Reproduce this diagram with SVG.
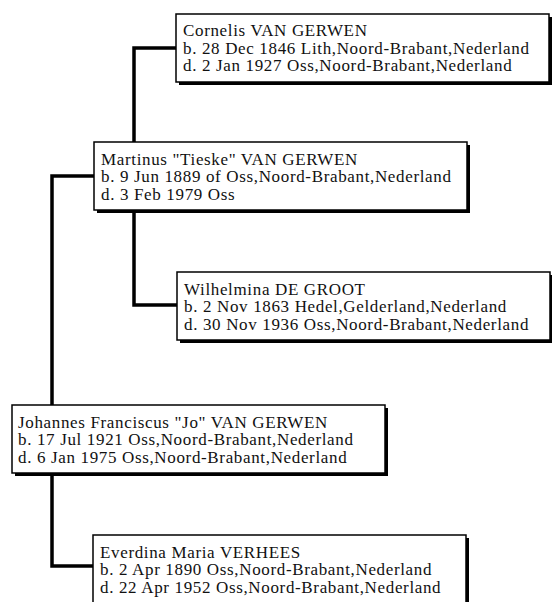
<svg xmlns="http://www.w3.org/2000/svg" width="552" height="602" viewBox="0 0 552 602">
<style>
.shadow{fill:#000}
.box{fill:#fff;stroke:#000;stroke-width:1.5}
.t{font-family:"Liberation Serif","Times New Roman",serif;font-size:17px;letter-spacing:0.65px;fill:#111}
.conn{fill:none;stroke:#000;stroke-width:3.5;stroke-linejoin:miter}
</style>
<defs>
<g id="card">
<rect class="shadow" x="3" y="3" width="373" height="68"/>
<rect class="box" x="0" y="0" width="373" height="68"/>
</g>
</defs>
<g id="connectors">
<path class="conn" d="M176,48 H134 V142"/>
<path class="conn" d="M134,210 V305 H177"/>
<path class="conn" d="M94,176 H52 V405"/>
<path class="conn" d="M52,473 V566 H93"/>
</g>
<g id="cornelis" transform="translate(176,14)">
<use href="#card"/>
<text class="t" x="7" y="22">Cornelis VAN GERWEN</text>
<text class="t" x="7" y="39.5">b. 28 Dec 1846 Lith,Noord-Brabant,Nederland</text>
<text class="t" x="7" y="57">d. 2 Jan 1927 Oss,Noord-Brabant,Nederland</text>
</g>
<g id="martinus" transform="translate(94,142)">
<use href="#card"/>
<text class="t" x="7" y="22.5">Martinus "Tieske" VAN GERWEN</text>
<text class="t" x="7" y="40">b. 9 Jun 1889 of Oss,Noord-Brabant,Nederland</text>
<text class="t" x="7" y="57.5">d. 3 Feb 1979 Oss</text>
</g>
<g id="wilhelmina" transform="translate(177,272)">
<use href="#card"/>
<text class="t" x="7" y="22.5">Wilhelmina DE GROOT</text>
<text class="t" x="7" y="40">b. 2 Nov 1863 Hedel,Gelderland,Nederland</text>
<text class="t" x="7" y="57.5">d. 30 Nov 1936 Oss,Noord-Brabant,Nederland</text>
</g>
<g id="johannes" transform="translate(12,405)">
<use href="#card"/>
<text class="t" x="6" y="22.5">Johannes Franciscus "Jo" VAN GERWEN</text>
<text class="t" x="6" y="40">b. 17 Jul 1921 Oss,Noord-Brabant,Nederland</text>
<text class="t" x="6" y="57.5">d. 6 Jan 1975 Oss,Noord-Brabant,Nederland</text>
</g>
<g id="everdina" transform="translate(93,535)">
<use href="#card"/>
<text class="t" x="7" y="22.5">Everdina Maria VERHEES</text>
<text class="t" x="7" y="40">b. 2 Apr 1890 Oss,Noord-Brabant,Nederland</text>
<text class="t" x="7" y="57.5">d. 22 Apr 1952 Oss,Noord-Brabant,Nederland</text>
</g>
</svg>
